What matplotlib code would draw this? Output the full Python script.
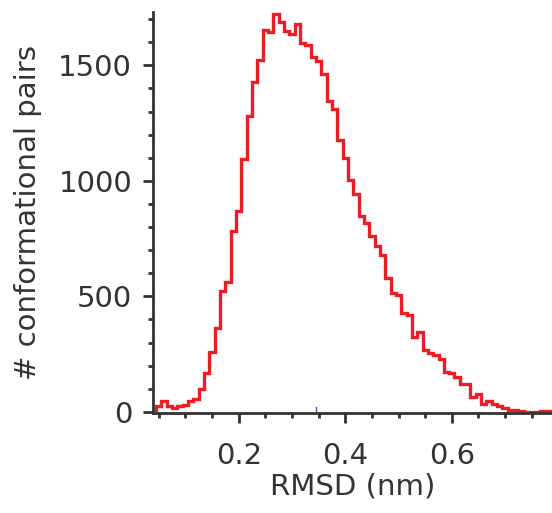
import numpy as np
import matplotlib
matplotlib.use('Agg')
import matplotlib.pyplot as plt
from matplotlib.ticker import MultipleLocator

# bin centres (nm) and counts
rmsd = np.round(np.arange(0.04, 0.785, 0.01), 3)
pares = [10, 27, 46, 27, 17, 27, 31, 46, 56, 97,
         169, 260, 361, 523, 560, 784, 870, 1096, 1280, 1427,
         1523, 1653, 1644, 1724, 1689, 1647, 1634, 1679, 1599, 1590,
         1537, 1517, 1463, 1347, 1309, 1179, 1101, 1003, 941, 846,
         816, 763, 720, 681, 580, 513, 506, 427, 420, 324,
         346, 267, 256, 246, 227, 174, 166, 149, 119, 119,
         66, 77, 33, 46, 34, 24, 17, 9, 6, 2,
         0, 0, 0, 2, 5]
media = 0.345

cinza = '#333333'
plt.rcParams['font.family'] = ['DejaVu Sans']

fig = plt.figure(figsize=(5.52, 5.13), dpi=100)
ax = fig.add_axes([0.277, 0.195, 0.723, 0.782])

bordas = np.append(rmsd - 0.005, rmsd[-1] + 0.005)
ax.stairs(pares, bordas, color='#ee1c25', linewidth=2.4, baseline=0)
ax.plot([media, media], [0, 22], color='#5050c0', linewidth=1)

ax.set_xlim(0.039, 0.788)
ax.set_ylim(-5, 1732)

ax.xaxis.set_major_locator(MultipleLocator(0.2))
ax.xaxis.set_minor_locator(MultipleLocator(0.05))
ax.yaxis.set_major_locator(MultipleLocator(500))
ax.yaxis.set_minor_locator(MultipleLocator(100))

for lado in ['top', 'right']:
    ax.spines[lado].set_visible(False)
for lado in ['left', 'bottom']:
    ax.spines[lado].set_color(cinza)
    ax.spines[lado].set_linewidth(2)

ax.tick_params(which='major', length=7, width=2, color=cinza, labelsize=21, labelcolor=cinza)
ax.tick_params(axis='x', which='major', pad=14)
ax.tick_params(axis='y', which='major', pad=8)
ax.tick_params(which='minor', length=3.5, width=2, color=cinza)
ax.set_xticks([0.2, 0.4, 0.6])
ax.set_xticklabels(['0.2', '0.4', '0.6'])

ax.set_xlabel('RMSD (nm)', fontsize=21, color=cinza, labelpad=2)
ax.set_ylabel('# conformational pairs', fontsize=21, color=cinza, labelpad=12)

fig.savefig('out.png', dpi=100)
